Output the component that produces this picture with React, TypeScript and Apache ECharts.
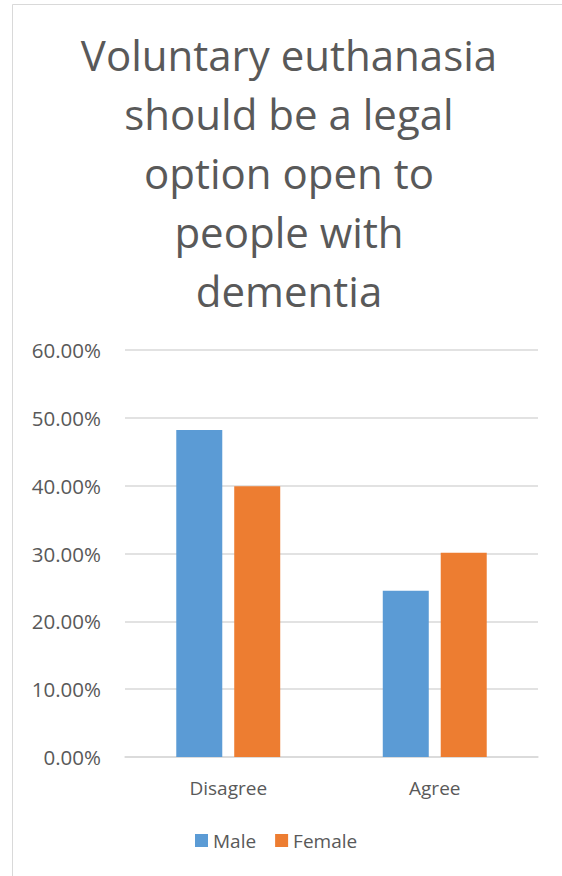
import React, { useEffect, useRef } from "react";
import * as echarts from "echarts";

const categories = ["Disagree", "Agree"];
const maleValues = [48.2, 24.5];
const femaleValues = [39.9, 30.1];
const titleLines = [
  "Voluntary euthanasia",
  "should be a legal",
  "option open to",
  "people with",
  "dementia",
];

const FONT = "'Open Sans', 'Noto Sans', sans-serif";
const TEXT = "#595959";
const GRID = "#d9d9d9";

export default function App() {
  const ref = useRef<HTMLDivElement>(null);

  useEffect(() => {
    document.body.style.margin = "0";
    if (!ref.current) return;
    const chart = echarts.init(ref.current, undefined, { renderer: "svg" });
    chart.setOption({
      animation: false,
      backgroundColor: "#ffffff",
      textStyle: { fontFamily: FONT },
      graphic: [
        {
          type: "polyline",
          shape: { points: [[12.5, 900], [12.5, 4.5], [600, 4.5]] },
          style: { stroke: GRID, lineWidth: 1, fill: "none" },
          silent: true,
        },
        {
          type: "text",
          x: 289,
          y: 25,
          style: {
            text: titleLines.join("\n"),
            fontFamily: FONT,
            fontSize: 42,
            lineHeight: 59,
            fill: TEXT,
            align: "center",
            verticalAlign: "top",
          },
        },
      ],
      legend: {
        left: 190,
        top: 826,
        icon: "rect",
        itemWidth: 13,
        itemHeight: 13,
        itemGap: 19,
        textStyle: { color: TEXT, fontSize: 19, fontFamily: FONT },
        data: ["Male", "Female"],
      },
      grid: { left: 125, right: 24, top: 350, bottom: 119 },
      xAxis: {
        type: "category",
        data: categories,
        axisLine: { lineStyle: { color: GRID, width: 1.5 } },
        axisTick: { show: false },
        axisLabel: { color: TEXT, fontSize: 19, margin: 21, fontFamily: FONT },
      },
      yAxis: {
        type: "value",
        min: 0,
        max: 60,
        interval: 10,
        axisLine: { show: false },
        axisTick: { show: false },
        splitLine: { lineStyle: { color: GRID, width: 1.5 } },
        axisLabel: {
          color: TEXT,
          fontSize: 20.5,
          margin: 24,
          fontFamily: FONT,
          formatter: (v: number) => v.toFixed(2) + "%",
        },
      },
      series: [
        {
          name: "Male",
          type: "bar",
          data: maleValues,
          itemStyle: { color: "#5B9BD5" },
          barWidth: 46,
          barGap: "26%",
        },
        {
          name: "Female",
          type: "bar",
          data: femaleValues,
          itemStyle: { color: "#ED7D31" },
          barWidth: 46,
          barGap: "26%",
        },
      ],
    });
    return () => chart.dispose();
  }, []);

  return <div ref={ref} style={{ width: 562, height: 876 }} />;
}
